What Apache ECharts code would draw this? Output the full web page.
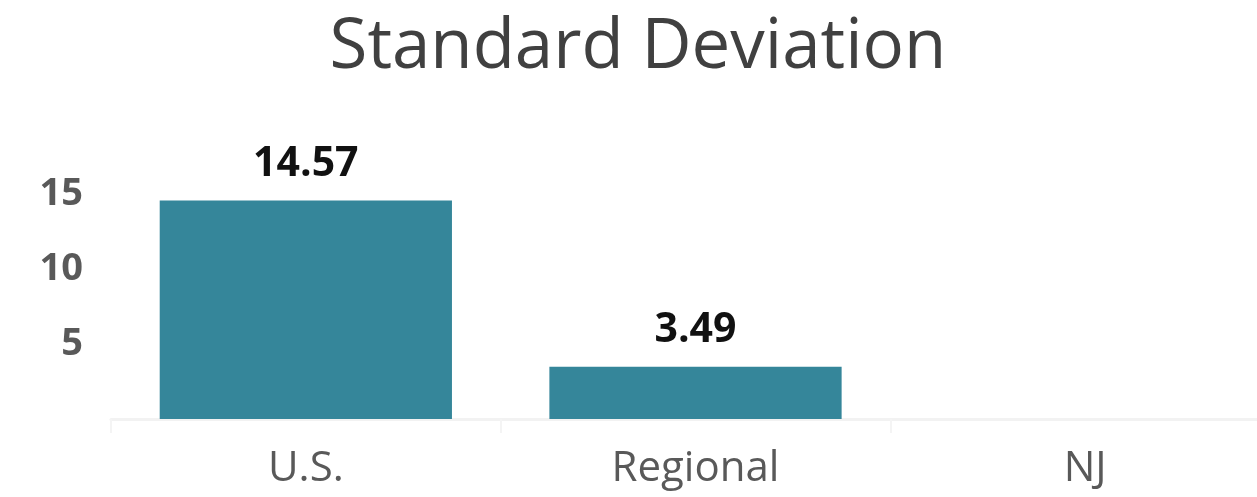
<!DOCTYPE html>
<html>
<head>
<meta charset="utf-8">
<script src="https://cdn.jsdelivr.net/npm/echarts@6/dist/echarts.min.js"></script>
<style>html,body{margin:0;padding:0;background:#fff;overflow:hidden}#c{width:1280px;height:497px}</style>
</head>
<body>
<div id="c"></div>
<script>
const titleText = "Standard Deviation";
const categories = ["U.S.", "Regional", "NJ"];
const values = [14.57, 3.49, null];
const yTicks = [5, 10, 15];

const chart = echarts.init(document.getElementById('c'), null, {renderer: 'canvas'});
chart.setOption({
  animation: false,
  backgroundColor: '#ffffff',
  title: {
    text: titleText,
    left: 633,
    textAlign: 'center',
    top: 9,
    textStyle: {fontFamily: 'Open Sans', fontSize: 69, fontWeight: 'normal', color: '#404040'}
  },
  grid: {left: 111, right: 0, top: 119, height: 300},
  xAxis: {
    type: 'category',
    data: categories,
    axisLine: {lineStyle: {color: '#f2f2f2', width: 3}},
    axisTick: {show: true, length: 14, lineStyle: {color: '#f4f4f4', width: 2}},
    axisLabel: {fontFamily: 'Open Sans', fontSize: 42, color: '#595959', margin: 29}
  },
  yAxis: {
    type: 'value',
    min: 0, max: 20, interval: 5,
    splitLine: {show: false},
    axisLine: {show: false},
    axisTick: {show: false},
    axisLabel: {
      fontFamily: 'Open Sans', fontSize: 38, fontWeight: 'bold', color: '#595959', margin: 28,
      formatter: v => yTicks.includes(v) ? String(v) : ''
    }
  },
  series: [{
    type: 'bar',
    data: values,
    barCategoryGap: '25%',
    itemStyle: {color: '#35869A'},
    label: {
      show: true, position: 'top', distance: 16,
      fontFamily: 'Open Sans', fontSize: 41, fontWeight: 'bold', color: '#111111',
      formatter: p => p.value == null ? '' : p.value.toFixed(2)
    }
  }]
});
</script>
</body>
</html>
